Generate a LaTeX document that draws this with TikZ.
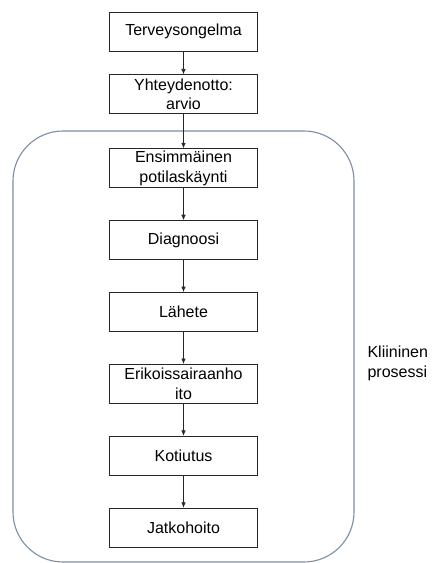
\documentclass[tikz,border=0pt]{standalone}
\usepackage{fontspec}
\setmainfont{Liberation Sans}
\usepackage{xcolor}
\usetikzlibrary{arrows.meta,positioning}

\definecolor{framegray}{RGB}{122,142,168}

\begin{document}
\begin{tikzpicture}[
    x=1pt, y=1pt,
    node distance=32pt,
    stage/.style={rectangle, draw=black!85, line width=0.9pt, minimum width=148pt, minimum height=39pt, inner sep=1pt, align=center, font=\fontsize{16}{19.5}\selectfont},
    arrow/.style={-{Latex[length=5.5pt,width=4.5pt]}, line width=0.8pt, black!85},
    procframe/.style={rectangle, draw=framegray, rounded corners=50pt, line width=1.1pt}
]
    \useasboundingbox (0,0) rectangle (436,563);
    \node[procframe, minimum width=341pt, minimum height=431pt] (klin) at (183.5,216.5) {};

    \node[stage] (terv) at (183.5,531.5) {Terveysongelma};
    \node[stage, below=23pt of terv] (yht) {Yhteydenotto:\\arvio};
    \node[stage, below=34pt of yht] (ens) {Ensimmäinen\\potilaskäynti};
    \node[stage, below=of ens] (diag) {Diagnoosi};
    \node[stage, below=of diag] (lah) {Lähete};
    \node[stage, below=of lah] (erik) {Erikoissairaanho\\ito};
    \node[stage, below=of erik] (kot) {Kotiutus};
    \node[stage, below=of kot] (jatko) {Jatkohoito};

    \draw[arrow] (terv) -- (yht);
    \draw[arrow] (yht) -- (ens);
    \draw[arrow] (ens) -- (diag);
    \draw[arrow] (diag) -- (lah);
    \draw[arrow] (lah) -- (erik);
    \draw[arrow] (erik) -- (kot);
    \draw[arrow] (kot) -- (jatko);

    \node[anchor=west, align=left, font=\fontsize{16}{20}\selectfont] (label) at (364,200) {Kliininen\\prosessi};
\end{tikzpicture}
\end{document}
